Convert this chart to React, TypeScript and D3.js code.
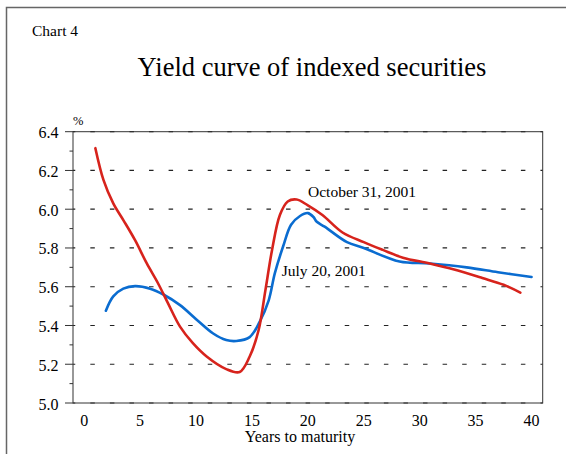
import React from "react";
import * as d3 from "d3";

const xTicks = [0, 5, 10, 15, 20, 25, 30, 35, 40];
const yTicks = [5.0, 5.2, 5.4, 5.6, 5.8, 6.0, 6.2, 6.4];
const yMinorTicks = [5.1, 5.3, 5.5, 5.7, 5.9, 6.1, 6.3];

const octYears = [1, 1.73, 2.6, 3.5, 4.55, 5.6, 6.6, 7.5, 8.57, 9.7, 10.95, 12.7, 13.9, 14.8, 15.6, 16.2, 16.8, 17.5, 18.2, 19.0, 20.0, 21.3, 23.1, 25, 26.7, 28.5, 30.9, 33, 35.6, 37.5, 39];
const octYield = [6.315, 6.15, 6.03, 5.944, 5.84, 5.72, 5.618, 5.514, 5.394, 5.31, 5.24, 5.175, 5.16, 5.24, 5.377, 5.58, 5.79, 5.97, 6.04, 6.05, 6.02, 5.97, 5.88, 5.83, 5.79, 5.75, 5.72, 5.69, 5.645, 5.61, 5.57];

const julYears = [1.94, 2.6, 3.5, 4.55, 5.9, 7.08, 8.57, 10.06, 11.5, 12.7, 13.6, 14.8, 15.7, 16.5, 17.05, 17.8, 18.5, 19.3, 20.0, 20.5, 20.8, 21.5, 23.5, 25, 28.2, 30.9, 34.2, 37, 40];
const julYield = [5.476, 5.55, 5.59, 5.603, 5.59, 5.56, 5.505, 5.43, 5.36, 5.325, 5.32, 5.34, 5.42, 5.53, 5.67, 5.81, 5.92, 5.965, 5.98, 5.96, 5.935, 5.91, 5.83, 5.8, 5.73, 5.72, 5.7, 5.675, 5.65];

const W = 566;
const H = 454;
const L = 73, R = 542.7, T = 131.7, B = 403;
const FONT = "'Liberation Serif', 'Times New Roman', serif";

export default function App() {
  const x = d3.scaleLinear().domain([-1, 41]).range([L, R]);
  const y = d3.scaleLinear().domain([5.0, 6.4]).range([B, T]);
  const line = d3
    .line<[number, number]>()
    .x((d) => x(d[0]))
    .y((d) => y(d[1]))
    .curve(d3.curveCatmullRom.alpha(0.5));
  const oct = line(octYears.map((v, i) => [v, octYield[i]] as [number, number])) || "";
  const jul = line(julYears.map((v, i) => [v, julYield[i]] as [number, number])) || "";

  const period = (R - L) / 24;
  const dash = 4.5;

  return (
    <svg
      width={W}
      height={H}
      style={{ position: "absolute", left: 0, top: 0, background: "#fff" }}
      fontFamily={FONT}
    >
      <rect x={6.5} y={7.5} width={700} height={700} fill="none" stroke="#666" strokeWidth={1.5} />
      <text x={32} y={36} fontSize={15.5} fill="#000">Chart 4</text>
      <text x={312} y={76} fontSize={26.5} textAnchor="middle" fill="#000">
        Yield curve of indexed securities
      </text>
      <text x={73} y={125} fontSize={12.5} fill="#000">%</text>

      {yTicks.map((v) => (
        <line
          key={"g" + v}
          x1={L}
          x2={R}
          y1={y(v)}
          y2={y(v)}
          stroke="#222"
          strokeWidth={1.2}
          strokeDasharray={`${dash} ${period - dash}`}
          strokeDashoffset={dash / 2}
        />
      ))}

      <rect x={L} y={T} width={R - L} height={B - T} fill="none" stroke="#333" strokeWidth={1} />

      {yTicks.map((v) => (
        <g key={"yt" + v}>
          <line x1={L - 8} x2={L} y1={y(v)} y2={y(v)} stroke="#333" strokeWidth={1} />
          <text x={58.5} y={y(v) + 6.5} fontSize={16} textAnchor="end" fill="#000">
            {v.toFixed(1)}
          </text>
        </g>
      ))}
      {yMinorTicks.map((v) => (
        <line key={"ym" + v} x1={L - 3.5} x2={L} y1={y(v)} y2={y(v)} stroke="#333" strokeWidth={1} />
      ))}

      {xTicks.map((v) => (
        <text key={"xt" + v} x={x(v)} y={426} fontSize={16} textAnchor="middle" fill="#000">
          {v}
        </text>
      ))}
      <text x={300} y={441.5} fontSize={16} textAnchor="middle" fill="#000">
        Years to maturity
      </text>

      <path d={jul} fill="none" stroke="#0a6cd0" strokeWidth={2.6} strokeLinecap="round" strokeLinejoin="round" />
      <path d={oct} fill="none" stroke="#d7231c" strokeWidth={2.6} strokeLinecap="round" strokeLinejoin="round" />

      <text x={308} y={197.3} fontSize={15.5} fill="#000">October 31, 2001</text>
      <text x={281.7} y={276} fontSize={15.5} fill="#000">July 20, 2001</text>
    </svg>
  );
}
